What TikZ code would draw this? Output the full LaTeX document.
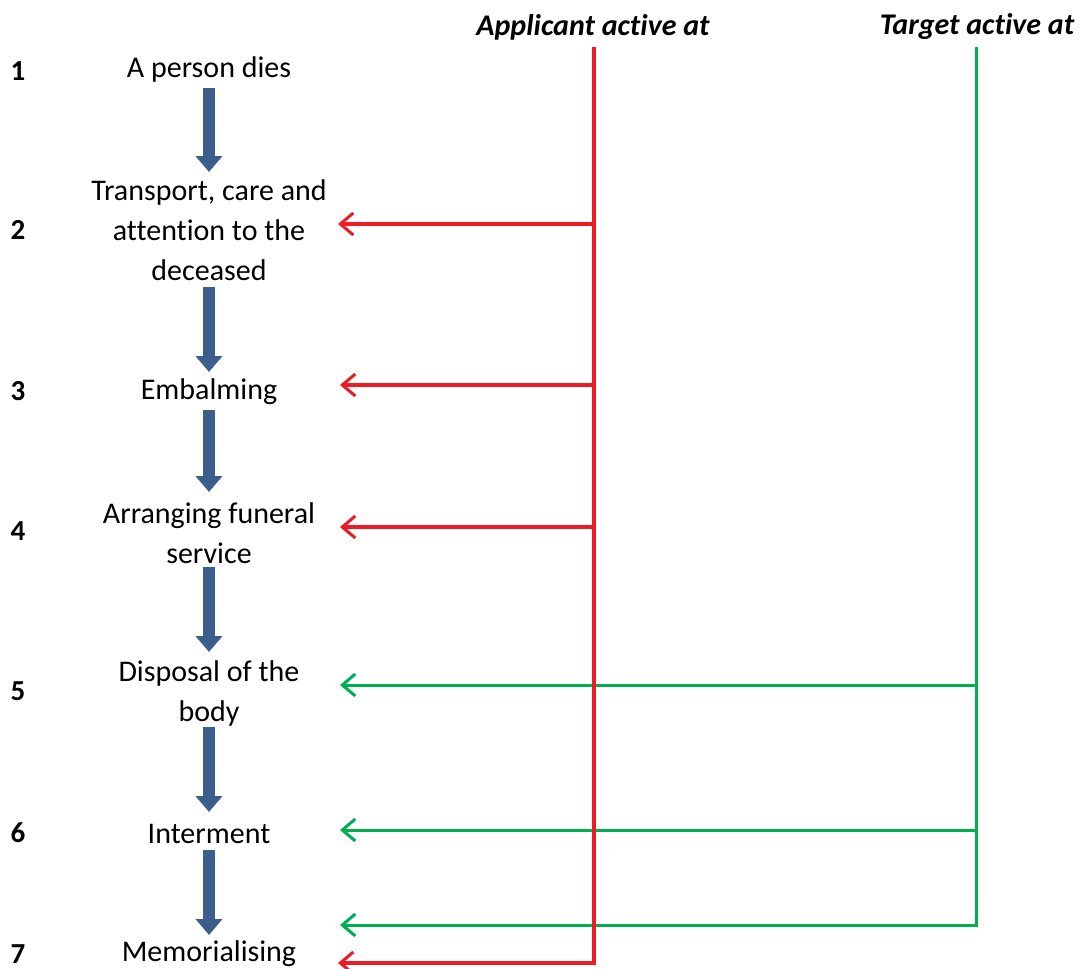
\documentclass[tikz,border=0pt]{standalone}
\usepackage{fontspec}
\setmainfont{Carlito}[Ligatures=NoCommon]
\usetikzlibrary{arrows.meta}
\definecolor{redline}{RGB}{237,28,36}
\definecolor{greenline}{RGB}{0,176,80}
\definecolor{blockblue}{RGB}{59,94,140}
\begin{document}
\begin{tikzpicture}[x=1pt,y=-1pt,
  stepnode/.style={align=center,inner sep=0pt,font=\fontsize{30}{40}\selectfont},
  numnode/.style={inner sep=0pt,font=\fontsize{29}{30}\selectfont\bfseries},
  headnode/.style={inner sep=0pt,font=\fontsize{30}{32}\selectfont\bfseries\itshape},
  blockarrow/.style={draw=blockblue,line width=12pt,-{Triangle[width=26pt,length=16pt]},color=blockblue},
  redarrow/.style={draw=redline,line width=3.5pt,-{Straight Barb[length=13pt,width=22pt,line width=3pt]}},
  greenarrow/.style={draw=greenline,line width=3pt,-{Straight Barb[length=13pt,width=22pt,line width=3pt]}},
]
\useasboundingbox (0,0) rectangle (1082,969);
% headings
\node[headnode] (happ) at (593,27) {Applicant active at};
\node[headnode] (htgt) at (977,27) {Target active at};
% numbers
\node[numnode] (n1) at (18,71) {1};
\node[numnode] (n2) at (18,230) {2};
\node[numnode] (n3) at (18,391) {3};
\node[numnode] (n4) at (18,531) {4};
\node[numnode] (n5) at (18,691) {5};
\node[numnode] (n6) at (18,833) {6};
\node[numnode] (n7) at (18,954) {7};
% steps
\node[stepnode] (s1) at (209,70) {A person dies};
\node[stepnode] (s2) at (209,230) {Transport, care and\\attention to the\\deceased};
\node[stepnode] (s3) at (209,392) {Embalming};
\node[stepnode] (s4) at (209,533) {Arranging funeral\\service};
\node[stepnode] (s5) at (209,693) {Disposal of the\\body};
\node[stepnode] (s6) at (209,834) {Interment};
\node[stepnode] (s7) at (209,954) {Memorialising};
% block arrows
\draw[blockarrow] (s1.south |- 0,88) -- (s2.north |- 0,172);
\draw[blockarrow] (s2.south |- 0,287) -- (s3.north |- 0,372);
\draw[blockarrow] (s3.south |- 0,410) -- (s4.north |- 0,492);
\draw[blockarrow] (s4.south |- 0,567) -- (s5.north |- 0,652);
\draw[blockarrow] (s5.south |- 0,727) -- (s6.north |- 0,812);
\draw[blockarrow] (s6.south |- 0,850) -- (s7.north |- 0,935);
% coordinates
\coordinate (rtop) at (594,47);
\coordinate (rbot) at (594,963);
\coordinate (gtop) at (976,47);
\coordinate (gbot) at (976,925);
\coordinate (r2) at (594,224);
\coordinate (r3) at (594,385);
\coordinate (r4) at (594,527);
\coordinate (g5) at (976,685);
\coordinate (g6) at (976,830);
\coordinate (t2) at (338,224);
\coordinate (t3) at (340,385);
\coordinate (t4) at (340,527);
\coordinate (t5) at (340,685);
\coordinate (t6) at (340,830);
\coordinate (t67) at (340,925);
\coordinate (t7) at (338,963);
% green
\draw[greenarrow] (g5) -- (t5);
\draw[greenarrow] (g6) -- (t6);
\draw[greenarrow,line join=miter] (gtop) -- (gbot) -- (t67);
% red
\draw[redarrow] (r2) -- (t2);
\draw[redarrow] (r3) -- (t3);
\draw[redarrow] (r4) -- (t4);
\draw[redarrow,line width=4.5pt,line join=miter] (rtop) -- (rbot) -- (t7);
\end{tikzpicture}
\end{document}
